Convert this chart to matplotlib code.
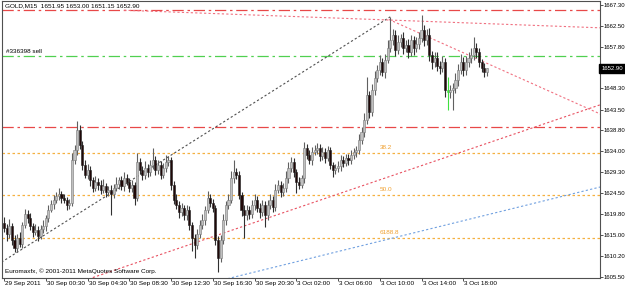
"""
GOLD M15 candlestick chart with trend lines, fib levels and order line.
"""

import matplotlib
matplotlib.use("Agg")
import matplotlib.pyplot as plt
import matplotlib.transforms as mtransforms

# --- data ---------------------------------------------------------------
first_open = 1617.8
closes = [
    1616.6, 1615.1, 1617.1, 1613.9, 1612.1, 1614.3, 1613.0, 1617.3, 1619.8, 1618.9,
    1617.1, 1615.7, 1616.2, 1614.8, 1616.4, 1617.1, 1618.9, 1620.7, 1622.1, 1623.0,
    1623.9, 1624.3, 1623.4, 1623.0, 1621.8, 1622.3, 1632.1, 1634.3, 1638.9, 1635.5,
    1630.9, 1628.7, 1629.8, 1627.5, 1625.7, 1627.1, 1626.4, 1625.3, 1626.2, 1624.8,
    1625.3, 1624.3, 1625.7, 1626.6, 1627.5, 1626.2, 1628.0, 1627.1, 1625.7, 1626.4,
    1623.4, 1631.6, 1629.8, 1628.7, 1630.3, 1629.3, 1630.9, 1632.1, 1629.8, 1630.9,
    1628.7, 1630.3, 1631.6, 1632.1, 1626.4, 1623.0, 1621.8, 1620.2, 1621.2, 1619.5,
    1620.7, 1617.3, 1614.3, 1612.8, 1615.1, 1617.3, 1618.4, 1620.7, 1623.4, 1622.3,
    1621.2, 1613.9, 1609.8, 1613.9, 1618.4, 1621.8, 1623.0, 1628.0, 1629.3, 1628.7,
    1624.1, 1620.7, 1619.5, 1620.7, 1619.8, 1621.8, 1623.0, 1621.2, 1620.2, 1621.8,
    1619.5, 1621.8, 1623.0, 1621.4, 1625.3, 1626.4, 1624.8, 1625.7, 1628.0, 1630.3,
    1631.6, 1629.3, 1627.1, 1626.4, 1628.0, 1634.8, 1633.2, 1632.1, 1633.9, 1634.3,
    1634.8, 1633.0, 1633.9, 1632.5, 1634.3, 1630.9, 1629.8, 1630.3, 1630.7, 1632.1,
    1631.4, 1632.5, 1632.1, 1633.2, 1633.9, 1634.3, 1636.6, 1638.4, 1641.2, 1646.8,
    1643.0, 1648.0, 1650.7, 1652.5, 1654.3, 1652.1, 1654.8, 1657.5, 1659.3, 1660.5,
    1657.1, 1658.9, 1659.8, 1657.5, 1658.2, 1656.6, 1659.3, 1657.5, 1658.4, 1659.8,
    1661.6, 1659.3, 1660.5, 1655.9, 1654.3, 1655.3, 1653.4, 1653.0, 1654.3, 1648.0,
    1647.5, 1648.0, 1648.4, 1650.3, 1652.5, 1654.3, 1652.5, 1654.3, 1655.3, 1655.9,
    1657.5, 1656.6, 1654.3, 1653.0, 1651.95, 1652.90,
]
upper_wick = [
    1.2, 0.8, 1.5, 0.6, 1.0, 0.9, 1.4, 0.7, 1.1, 0.8,
    1.0, 0.6, 1.3, 0.8, 0.9, 1.2, 0.7, 1.0, 0.8, 1.1,
    0.9, 1.3, 0.7, 1.0, 0.6, 0.8, 1.5, 1.2, 2.0, 1.0,
    0.8, 1.1, 1.4, 0.9, 0.7, 1.2, 0.8, 1.0, 1.5, 0.6,
    0.9, 1.1, 0.8, 1.6, 0.7, 1.0, 1.3, 0.8, 0.9, 1.2,
    0.7, 2.1, 1.0, 0.8, 1.4, 0.9, 1.1, 2.7, 0.8, 1.2,
    0.9, 1.0, 1.5, 0.8, 0.7, 0.9, 1.2, 0.8, 1.0, 0.6,
    1.1, 0.9, 0.7, 0.8, 1.2, 1.0, 1.3, 0.9, 1.6, 1.0,
    0.8, 0.7, 0.9, 1.1, 1.4, 1.0, 1.2, 1.5, 2.8, 1.0,
    0.8, 0.7, 1.0, 1.2, 0.9, 1.1, 1.4, 0.8, 1.0, 1.2,
    0.9, 1.1, 1.3, 0.8, 1.2, 1.0, 0.9, 1.1, 1.5, 1.3,
    1.2, 0.9, 0.8, 1.0, 0.7, 1.4, 0.9, 1.1, 1.0, 1.2,
    1.0, 0.8, 1.1, 0.9, 1.0, 0.8, 0.7, 0.9, 1.0, 1.1,
    0.8, 1.0, 0.9, 1.1, 0.8, 1.0, 1.4, 1.2, 1.5, 4.2,
    1.0, 1.3, 1.5, 1.2, 1.6, 1.0, 1.4, 1.8, 5.3, 1.4,
    1.2, 1.5, 1.0, 1.3, 1.1, 1.4, 1.2, 1.0, 1.5, 1.3,
    3.4, 1.2, 1.4, 1.6, 1.0, 1.3, 1.2, 1.1, 1.4, 0.9,
    3.0, 1.0, 1.2, 1.5, 1.3, 1.8, 1.1, 1.4, 1.2, 1.6,
    2.5, 1.2, 1.0, 0.8, 1.0, 0.1,
]
lower_wick = [
    1.0, 1.4, 0.8, 1.2, 0.9, 1.1, 0.7, 1.0, 0.8, 1.3,
    0.9, 1.1, 0.7, 1.2, 0.8, 1.0, 1.3, 0.9, 0.6, 1.1,
    0.8, 1.0, 1.2, 0.7, 1.1, 0.9, 0.8, 1.0, 1.2, 0.9,
    1.1, 0.8, 1.0, 1.3, 0.9, 0.7, 1.2, 1.0, 0.8, 1.1,
    0.9, 4.8, 1.0, 0.8, 1.2, 0.9, 1.1, 0.8, 1.0, 0.9,
    1.6, 0.8, 1.0, 1.3, 0.9, 1.1, 0.8, 1.0, 1.2, 0.9,
    1.0, 0.8, 1.1, 0.9, 1.2, 1.0, 0.8, 1.3, 0.9, 1.1,
    1.0, 1.2, 3.0, 3.0, 1.1, 0.9, 1.0, 1.2, 0.8, 1.0,
    1.1, 1.3, 3.2, 1.0, 0.9, 1.2, 1.0, 0.8, 1.1, 0.9,
    1.0, 1.4, 5.2, 1.0, 1.2, 0.9, 1.1, 1.0, 1.3, 0.8,
    2.7, 1.0, 0.9, 1.2, 1.0, 0.8, 1.1, 1.0, 0.9, 1.2,
    1.0, 1.2, 2.5, 1.0, 0.8, 1.1, 0.9, 1.0, 1.2, 0.8,
    1.0, 1.1, 0.9, 1.2, 0.8, 1.0, 1.6, 1.0, 0.9, 1.1,
    1.0, 0.8, 1.2, 0.9, 1.0, 1.1, 0.8, 1.0, 1.2, 1.0,
    1.3, 1.0, 1.2, 0.9, 1.1, 1.0, 1.3, 0.8, 1.0, 1.2,
    1.5, 1.0, 1.2, 1.4, 1.0, 1.3, 0.9, 1.5, 1.0, 1.2,
    1.0, 1.4, 1.1, 1.3, 1.5, 1.0, 1.2, 1.4, 1.0, 1.6,
    4.1, 1.3, 4.6, 1.2, 1.5, 1.0, 1.4, 1.2, 1.0, 1.3,
    1.1, 1.4, 1.2, 1.0, 1.0, 0.8,
]
highlight_bar = 170

time_labels = ["29 Sep 2011", "30 Sep 00:30", "30 Sep 04:30", "30 Sep 08:30",
               "30 Sep 12:30", "30 Sep 16:30", "30 Sep 20:30", "3 Oct 02:00",
               "3 Oct 06:00", "3 Oct 10:00", "3 Oct 14:00", "3 Oct 18:00"]
time_label_bars = [0, 16, 32, 48, 64, 80, 96, 112, 128, 144, 160, 176]
price_ticks = [1667.30, 1662.50, 1657.80, 1648.30, 1643.50, 1638.80, 1634.00,
               1629.30, 1624.50, 1619.80, 1615.00, 1610.20, 1605.50]
last_price = 1652.90

red_levels = [1666.2, 1639.6]
sell_level = 1655.7
sell_label = "#336398 sell"
fib_levels = [1633.7, 1624.1, 1614.3]
fib_labels = ["38.2", "50.0", "6188.8"]

black_trend = ([-1.0, 148.0], [1608.8, 1664.6])
red_trend_top = ([46.0, 228.5], [1666.1, 1662.1])
red_trend_down = ([147.5, 228.5], [1664.0, 1642.5])
red_trend_up = ([34.0, 228.5], [1605.3, 1644.6])
blue_trend = ([84.0, 228.5], [1604.8, 1625.9])

title = "GOLD,M15  1651.95 1653.00 1651.15 1652.90"
footer = "Euromaxfx, \u00a9 2001-2011 MetaQuotes Software Corp."

# --- drawing -------------------------------------------------------------
plt.rcParams["font.family"] = ["Liberation Sans", "DejaVu Sans"]
fig = plt.figure(figsize=(6.25, 2.9), dpi=100)
ax = fig.add_axes([2 / 625, 12 / 290, 598 / 625, 277 / 290])
ax.set_xlim(-0.8, 228.4)
ax.set_ylim(1605.2, 1668.2)

dotted = (0, (2, 2))
dashdot = (0, (9, 3, 2, 3))

for lvl in red_levels:
    ax.axhline(lvl, color="#e84848", lw=0.9, ls=dashdot, zorder=1)
ax.axhline(sell_level, color="#50d050", lw=0.9, ls=dashdot, zorder=1)
for lvl in fib_levels:
    ax.axhline(lvl, color="#f5b040", lw=0.9, ls=dotted, zorder=1)

ax.plot(*black_trend, color="#505050", lw=0.8, ls=dotted, zorder=1)
ax.plot(*red_trend_top, color="#f07080", lw=0.8, ls=dotted, zorder=1)
ax.plot(*red_trend_down, color="#f07080", lw=0.8, ls=dotted, zorder=1)
ax.plot(*red_trend_up, color="#e85060", lw=0.8, ls=dotted, zorder=1)
ax.plot(*blue_trend, color="#70a0e0", lw=0.8, ls=dotted, zorder=1)

opens = [first_open] + closes[:-1]
for i, (o, c) in enumerate(zip(opens, closes)):
    top, bot = max(o, c), min(o, c)
    hi, lo = top + upper_wick[i], bot - lower_wick[i]
    if i == highlight_bar:
        wick_col, face, edge = "#40e040", "#40e040", "#40e040"
    elif c >= o:
        wick_col, face, edge = "#606060", "#c0c0c0", "#7a7a7a"
    else:
        wick_col, face, edge = "#303030", "#200808", "#202020"
    ax.vlines(i, lo, hi, color=wick_col, lw=0.8, zorder=2)
    ax.bar(i, max(top - bot, 0.15), bottom=bot, width=0.8,
           color=face, edgecolor=edge, linewidth=0.4, zorder=3)

fs = 4.6
for lvl, lab in zip(fib_levels, fib_labels):
    ax.text(144, lvl + 0.6, lab, color="#f0a030", fontsize=fs, va="bottom", ha="left")
ax.text(0.8, sell_level + 0.5, sell_label, color="#000000", fontsize=fs, va="bottom")
ax.text(0.005, 0.99, title, transform=ax.transAxes, fontsize=fs, va="top", ha="left")
ax.text(0.005, 0.015, footer, transform=ax.transAxes, fontsize=fs, va="bottom", ha="left")

# axes styling
for sp in ax.spines.values():
    sp.set_color("#505050")
    sp.set_linewidth(0.8)
ax.yaxis.tick_right()
ax.set_yticks(price_ticks)
ax.set_yticklabels(["%.2f" % p for p in price_ticks], fontsize=4.3)
ax.set_xticks(time_label_bars)
ax.set_xticklabels(time_labels, fontsize=fs, ha="left")
ax.tick_params(axis="both", length=2, width=0.7, color="#505050", pad=0.4)
offset = mtransforms.ScaledTranslation(1 / 100, 0, fig.dpi_scale_trans)
for lab in ax.get_xticklabels():
    lab.set_transform(lab.get_transform() + offset)

trans = mtransforms.blended_transform_factory(ax.transAxes, ax.transData)
ax.text(1.002, last_price, "%.2f" % last_price, transform=trans, fontsize=4.3,
        color="white", va="center", ha="left",
        bbox=dict(boxstyle="square,pad=0.3", fc="black", ec="black"))

fig.savefig("out.png", dpi=100, facecolor="white")
